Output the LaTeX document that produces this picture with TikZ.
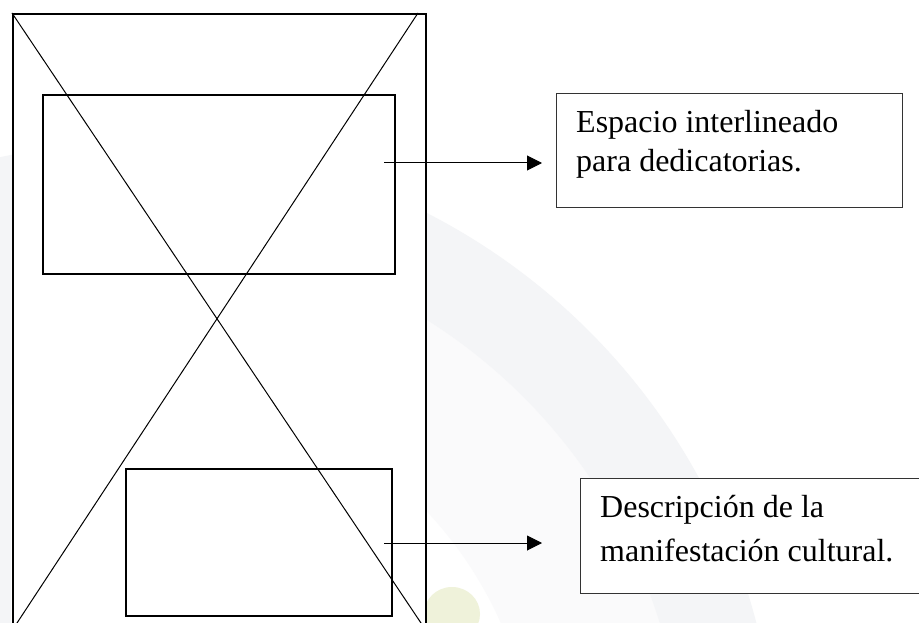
\documentclass[tikz,border=0pt]{standalone}
\usepackage{fontspec}
\setmainfont{Liberation Serif}
\usetikzlibrary{arrows.meta,calc}
\definecolor{wmgrey}{RGB}{244,245,247}
\definecolor{wmlight}{RGB}{250,250,251}
\definecolor{wmyellow}{RGB}{239,242,218}
\begin{document}
\begin{tikzpicture}[x=1pt,y=-1pt,
  pageframe/.style={rectangle,draw=black,line width=2pt,fill=white,inner sep=0pt,anchor=north west},
  innerbox/.style={rectangle,draw=black,line width=2pt,inner sep=0pt,anchor=north west},
  crossline/.style={draw=black,line width=1pt},
  textbox/.style={rectangle,draw=black!80,line width=1pt,fill=white,inner sep=0pt,anchor=north west},
  boxtext/.style={inner sep=0pt,anchor=base west},
  pointer/.style={-{Triangle[length=15pt,width=15pt]},line width=1pt}]
\useasboundingbox (0,0) rectangle (919,623);
\clip (0,0) rectangle (919,623);
\fill[white] (0,0) rectangle (919,623);
% faint watermark
\fill[wmlight, even odd rule] (135,785) circle[radius=549] (135,785) circle[radius=400];
\fill[wmgrey, even odd rule] (135,785) circle[radius=642] (135,785) circle[radius=549];
\fill[wmgrey] (0,230) rectangle (11,623);
\fill[wmyellow] (452,614) ellipse[x radius=28, y radius=27];
% page sketch
\node[pageframe, minimum width=413pt, minimum height=640pt] (page) at (12,13) {};
\coordinate (xa1) at (12,13);
\coordinate (xa2) at (421,623);
\coordinate (xb1) at (418,13);
\coordinate (xb2) at (17,623);
\draw[crossline] (xa1) -- ($(xa1)!1.05!(xa2)$);
\draw[crossline] (xb1) -- ($(xb1)!1.05!(xb2)$);
\node[innerbox, minimum width=352pt, minimum height=179pt] (ded) at (42,94) {};
\node[innerbox, minimum width=266pt, minimum height=147pt] (desc) at (125,468) {};
% callout boxes
\node[textbox, minimum width=346pt, minimum height=114pt] (box1) at (556,93) {};
\node[boxtext, font=\fontsize{32}{38.5}\selectfont] (t1) at (576,133)
  {\begin{tabular}[t]{@{}l@{}}Espacio interlineado\\para dedicatorias.\end{tabular}};
\node[textbox, minimum width=360pt, minimum height=115pt] (box2) at (580,478) {};
\node[boxtext, font=\fontsize{32}{44.5}\selectfont] (t2) at (600,517)
  {\begin{tabular}[t]{@{}l@{}}Descripción de la\\manifestación cultural.\end{tabular}};
% arrows
\coordinate (a1s) at (384,163);
\coordinate (a1e) at (542,163);
\coordinate (a2s) at (384,543);
\coordinate (a2e) at (542,543);
\draw[pointer] (a1s) -- (a1e);
\draw[pointer] (a2s) -- (a2e);
\end{tikzpicture}
\end{document}
